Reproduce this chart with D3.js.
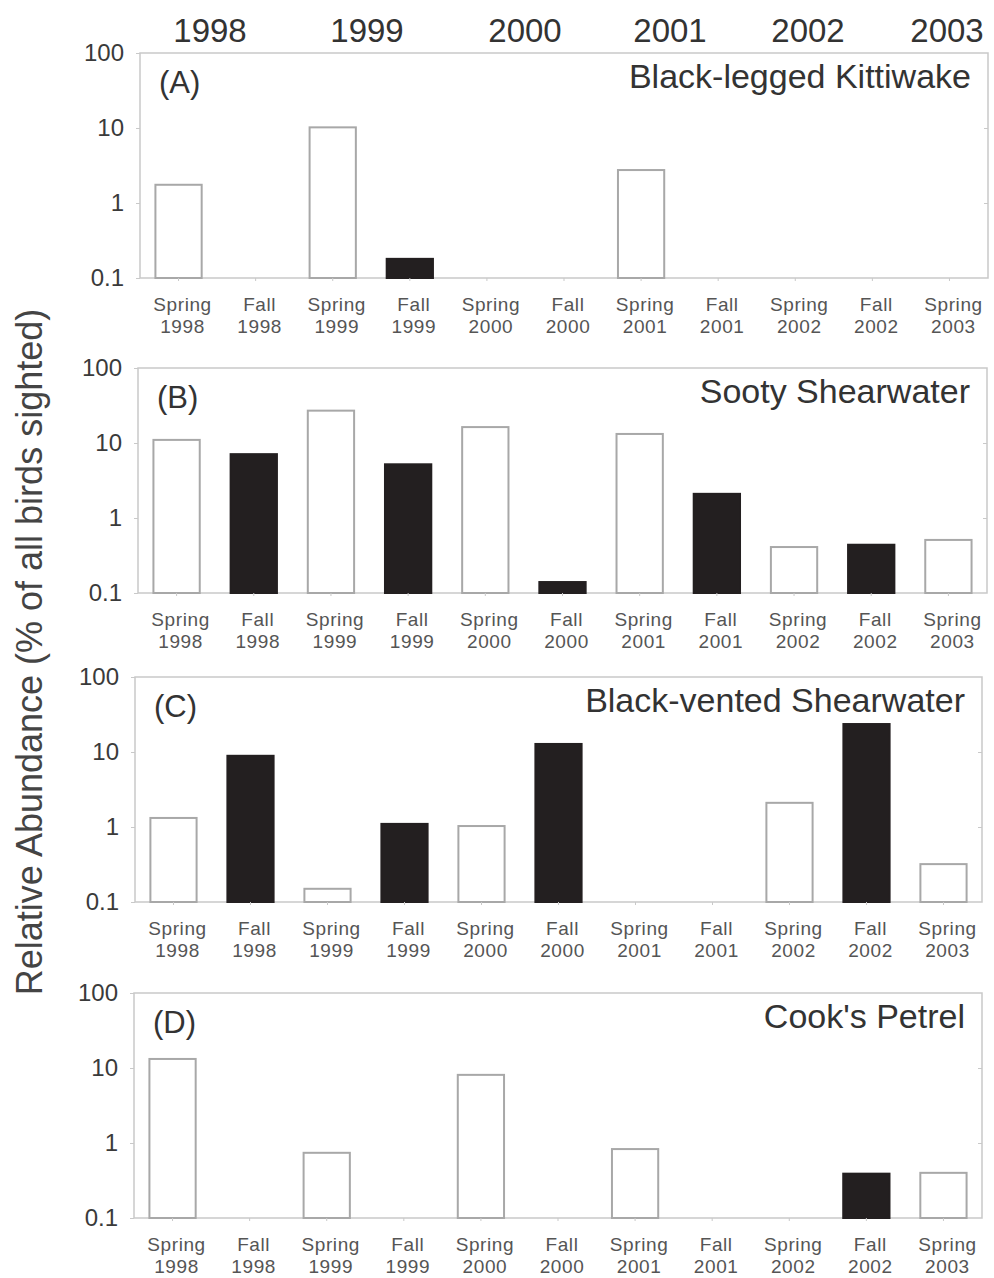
<!DOCTYPE html>
<html>
<head>
<meta charset="utf-8">
<script src="https://cdn.jsdelivr.net/npm/d3@7"></script>
<style>
  body { margin: 0; background: #fff; }
  text { font-family: "Liberation Sans", Arial, sans-serif; }
</style>
</head>
<body>
<div id="img"></div>
<script>
const seasons = ["Spring 1998", "Fall 1998", "Spring 1999", "Fall 1999", "Spring 2000", "Fall 2000",
                 "Spring 2001", "Fall 2001", "Spring 2002", "Fall 2002", "Spring 2003"];
const kittiwake   = [1.75, null, 10.2, 0.18, null, null, 2.75, null, null, null, null];
const sooty       = [11, 7.1, 27, 5.2, 16.3, 0.14, 13.2, 2.1, 0.41, 0.44, 0.51];
const blackVented = [1.32, 8.9, 0.15, 1.1, 1.03, 12.8, null, null, 2.1, 23.6, 0.32];
const cooks       = [13.2, null, 0.74, null, 8.1, null, 0.83, null, null, 0.39, 0.40];
const yTicks = [0.1, 1, 10, 100];
const years = ["1998", "1999", "2000", "2001", "2002", "2003"];
const panelLetters = ["(A)", "(B)", "(C)", "(D)"];
const species = ["Black-legged Kittiwake", "Sooty Shearwater", "Black-vented Shearwater", "Cook's Petrel"];
const series = [kittiwake, sooty, blackVented, cooks];

const W = 994, H = 1278;
// panel frames (the scan is slightly skewed, so each panel has its own box)
const boxes = [
    {top: 53,  left: 140, right: 988},
    {top: 368, left: 138, right: 987},
    {top: 677, left: 135, right: 982},
    {top: 993, left: 134, right: 982}
];
const ph = 225;
const frameCol = "#c9c9c9";

var svg = d3.select("#img").append("svg")
    .attr("width", W)
    .attr("height", H);

// year headers
var yearX = d3.scaleOrdinal().domain(years).range([210, 367, 525, 670, 808, 947]);
svg.selectAll(".year")
    .data(years)
    .enter().append("text")
    .attr("x", d => yearX(d))
    .attr("y", 42)
    .attr("text-anchor", "middle")
    .attr("font-size", 33)
    .attr("fill", "#333")
    .text(d => d);

// y axis title
svg.append("text")
    .attr("transform", "translate(42,652) rotate(-90)")
    .attr("text-anchor", "middle")
    .attr("font-size", 36)
    .attr("fill", "#444")
    .text("Relative Abundance (% of all birds sighted)");

series.forEach(function(vals, p) {
    var b = boxes[p];
    var g = svg.append("g");

    var x = d3.scaleBand()
        .domain(seasons)
        .range([b.left, b.right])
        .paddingInner(0.4)
        .paddingOuter(0.2);

    var y = d3.scaleLog()
        .domain([0.1, 100])
        .range([b.top + ph, b.top]);

    // frame
    g.append("rect")
        .attr("x", b.left).attr("y", b.top)
        .attr("width", b.right - b.left).attr("height", ph)
        .attr("fill", "none")
        .attr("stroke", frameCol)
        .attr("stroke-width", 1.5);

    // bars
    var data = seasons.map((s, i) => ({season: s, value: vals[i]})).filter(d => d.value != null);
    g.selectAll(".bar")
        .data(data)
        .enter().append("rect")
        .attr("x", d => x(d.season))
        .attr("width", x.bandwidth())
        .attr("y", d => y(d.value))
        .attr("height", d => y(0.1) - y(d.value))
        .attr("fill", d => d.season.startsWith("Fall") ? "#231f20" : "#fff")
        .attr("stroke", d => d.season.startsWith("Fall") ? "#231f20" : "#a8a8a8")
        .attr("stroke-width", 2);

    // left axis
    var ax = g.append("g")
        .attr("transform", "translate(" + b.left + ",0)")
        .call(d3.axisLeft(y).tickValues(yTicks).tickFormat(d => d).tickSize(4).tickSizeOuter(0));
    ax.select(".domain").remove();
    ax.selectAll("line").attr("stroke", frameCol);
    ax.selectAll("text")
        .attr("font-size", 24)
        .attr("fill", "#3a3a3a")
        .attr("dx", "-9")
        .style("font-family", "Liberation Sans, Arial, sans-serif");

    // right axis, ticks pointing in
    var rx = g.append("g")
        .attr("transform", "translate(" + b.right + ",0)")
        .call(d3.axisLeft(y).tickValues([1, 10]).tickFormat("").tickSize(4).tickSizeOuter(0));
    rx.select(".domain").remove();
    rx.selectAll("line").attr("stroke", frameCol);

    // bottom axis
    var bx = g.append("g")
        .attr("transform", "translate(0," + (b.top + ph) + ")")
        .call(d3.axisBottom(x).tickFormat("").tickSize(3).tickSizeOuter(0));
    bx.select(".domain").remove();
    bx.selectAll("line").attr("stroke", frameCol);

    // two-line season labels
    var cx = d => x(d) + x.bandwidth() / 2 + 4;
    g.selectAll(".lab1")
        .data(seasons)
        .enter().append("text")
        .attr("x", cx)
        .attr("y", b.top + ph + 33)
        .attr("text-anchor", "middle")
        .attr("font-size", 19)
        .attr("letter-spacing", 0.6)
        .attr("fill", "#555")
        .text(d => d.split(" ")[0]);
    g.selectAll(".lab2")
        .data(seasons)
        .enter().append("text")
        .attr("x", cx)
        .attr("y", b.top + ph + 55)
        .attr("text-anchor", "middle")
        .attr("font-size", 19)
        .attr("letter-spacing", 0.6)
        .attr("fill", "#555")
        .text(d => d.split(" ")[1]);

    // panel letter and species
    g.append("text")
        .attr("x", b.left + 19)
        .attr("y", b.top + 40)
        .attr("font-size", 31)
        .attr("fill", "#333")
        .text(panelLetters[p]);

    g.append("text")
        .attr("x", b.right - 17)
        .attr("y", b.top + 35)
        .attr("text-anchor", "end")
        .attr("font-size", 34)
        .attr("fill", "#333")
        .text(species[p]);
});
</script>
</body>
</html>
